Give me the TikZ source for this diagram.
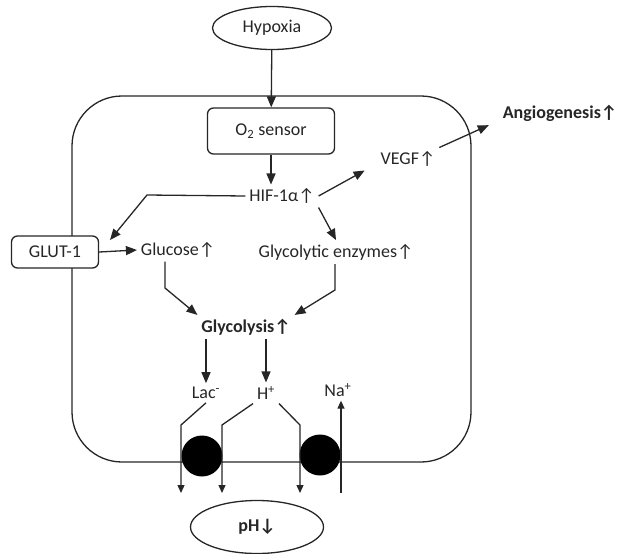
\documentclass[tikz,border=0pt]{standalone}
\usepackage{fontspec}
\setmainfont{Carlito}
\usetikzlibrary{shapes.geometric, arrows.meta}
\newcommand{\uparr}{↑}
\newcommand{\downarr}{↓}

\begin{document}
\begin{tikzpicture}[x=1pt, y=-1pt, line width=1.3pt, draw=black!85, text=black!85,
                font=\fontsize{18}{20}\selectfont,
                arr/.style = {-{Triangle[length=11pt, width=9pt]}},
                smallarr/.style = {-{Triangle[length=8pt, width=7pt]}},
                oval/.style = {draw, ellipse, fill=white, inner sep=0pt},
                box/.style = {draw, rounded corners=6pt, fill=white, inner sep=0pt},
                pump/.style = {circle, fill=black, minimum size=41pt, inner sep=0pt}]
                \useasboundingbox (0,0) rectangle (619,554);

                \draw[rounded corners=50pt] (72,96) rectangle (471,462);

                \node[oval, minimum width=119pt, minimum height=43pt] at (272, 28) (hypoxia) {Hypoxia};
                \node[box, minimum width=127pt, minimum height=46pt] at (271, 131) (sensor) {O\textsubscript{2} sensor};
                \node at (282, 196) (hif) {HIF-1α\uparr};
                \node[box, minimum width=87pt, minimum height=32pt] at (55, 252) (glut) {GLUT-1};
                \node at (178, 250) (glucose) {Glucose\uparr};
                \node at (336, 252) (enzymes) {Glycolytic enzymes\uparr};
                \node at (408, 159) (vegf) {VEGF\uparr};
                \node at (560, 113) (angio) {\textbf{Angiogenesis\uparr}};
                \node at (246, 327) (glycolysis) {\textbf{Glycolysis\uparr}};
                \node at (206, 393) (lac) {Lac\textsuperscript{-}};
                \node at (266, 393) (hplus) {H\textsuperscript{+}};
                \node at (338, 390) (na) {Na\textsuperscript{+}};
                \node[pump] at (202, 456) (pumpa) {};
                \node[pump] at (320, 455) (pumpb) {};
                \node[oval, minimum width=133pt, minimum height=53pt] at (257, 527) (ph) {\textbf{pH\downarr}};

                \coordinate (hifbend) at (147, 195);
                \coordinate (glutin) at (110, 240);
                \coordinate (glubend) at (165, 288);
                \coordinate (enzbend) at (335, 290);
                \coordinate (lacbend) at (181, 425);
                \coordinate (lacout) at (181, 493);
                \coordinate (hbenda) at (222, 425);
                \coordinate (houta) at (222, 493);
                \coordinate (hbendb) at (300, 425);
                \coordinate (houtb) at (300, 493);
                \coordinate (nain) at (341, 493);

                \draw[arr] (hypoxia) -- (sensor);
                \draw[arr] (sensor) -- (sensor |- hif.north);
                \draw[arr] (hif.west) -- (hifbend) -- (glutin);
                \draw[arr] (glut.east) -- (glucose.west);
                \draw[arr] (hif.east) -- ([xshift=-12pt]vegf.south west);
                \draw[arr] (hif.south east) -- (enzymes.north);
                \draw[arr] (vegf.north east) -- ([xshift=-10pt]angio.south west);
                \draw[arr] (glucose.south -| glubend) -- (glubend) -- (glycolysis.north west);
                \draw[arr] (enzymes.south -| enzbend) -- (enzbend) -- (glycolysis.north east);
                \draw[arr] (glycolysis.south -| lac) -- (lac);
                \draw[arr] (glycolysis.south -| hplus) -- (hplus);

                \draw[smallarr] (lac.south) -- (lacbend) -- (lacout);
                \draw[smallarr] (hplus.south west) -- (hbenda) -- (houta);
                \draw[smallarr] (hplus.south east) -- (hbendb) -- (houtb);
                \draw[smallarr] (nain) -- (nain |- na.south);
            \end{tikzpicture}
\end{document}
